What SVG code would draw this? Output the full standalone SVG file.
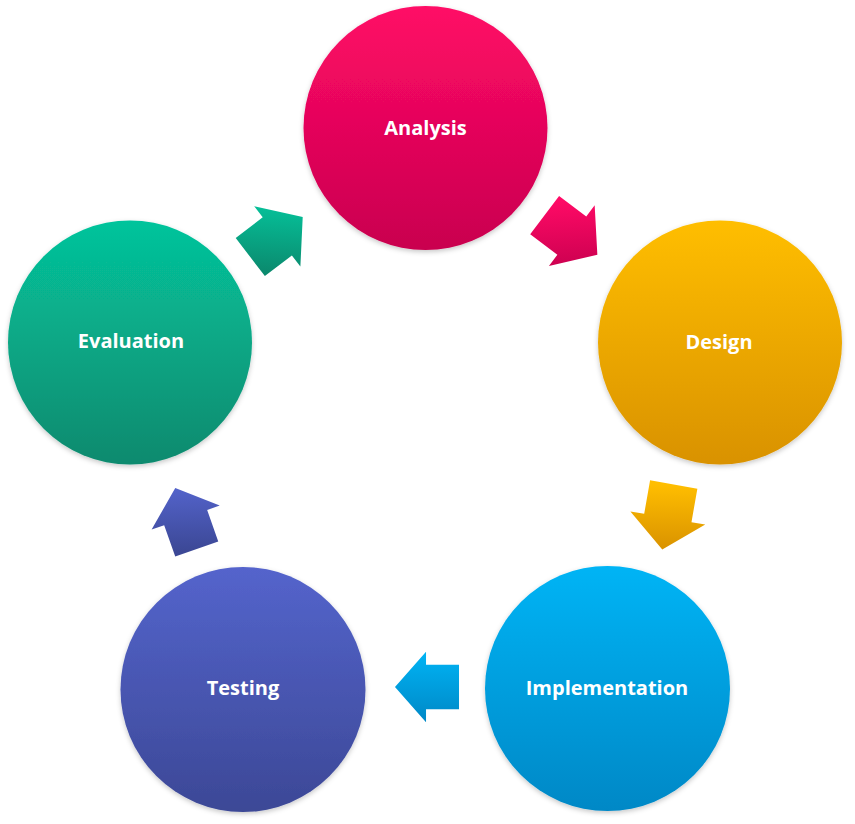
<svg xmlns="http://www.w3.org/2000/svg" xmlns:xlink="http://www.w3.org/1999/xlink" width="855" height="824" viewBox="0 0 855 824">
  <style>
    .label { font-family: "Open Sans", "Liberation Sans", sans-serif; font-weight: 700; font-size: 20px; fill: #ffffff; text-anchor: middle; }
    .node circle { filter: url(#soft); }
  </style>
  <defs>
    <filter id="soft" x="-20%" y="-20%" width="140%" height="140%">
      <feDropShadow dx="0" dy="2" stdDeviation="2.5" flood-color="#000000" flood-opacity="0.22"/>
    </filter>
    <!-- circle fills: lighter at the top, darker at the bottom -->
    <linearGradient id="gAnalysis" x1="0" y1="0" x2="0" y2="1">
      <stop offset="0" stop-color="#ff0a66"/>
      <stop offset="1" stop-color="#c9004f"/>
    </linearGradient>
    <linearGradient id="gDesign" x1="0" y1="0" x2="0" y2="1">
      <stop offset="0" stop-color="#ffbe00"/>
      <stop offset="1" stop-color="#d99200"/>
    </linearGradient>
    <linearGradient id="gImpl" x1="0" y1="0" x2="0" y2="1">
      <stop offset="0" stop-color="#00b4f5"/>
      <stop offset="1" stop-color="#0088c6"/>
    </linearGradient>
    <linearGradient id="gTest" x1="0" y1="0" x2="0" y2="1">
      <stop offset="0" stop-color="#5464cc"/>
      <stop offset="1" stop-color="#3c4896"/>
    </linearGradient>
    <linearGradient id="gEval" x1="0" y1="0" x2="0" y2="1">
      <stop offset="0" stop-color="#05c49c"/>
      <stop offset="1" stop-color="#0b8a6e"/>
    </linearGradient>
    <!-- arrow fills: vectors counter-rotated so the shading stays vertical on screen -->
    <linearGradient id="aEval" href="#gEval" xlink:href="#gEval" x1="0.80" y1="0.10" x2="0.20" y2="0.90"/>
    <linearGradient id="aAnalysis" href="#gAnalysis" xlink:href="#gAnalysis" x1="0.20" y1="0.10" x2="0.80" y2="0.90"/>
    <linearGradient id="aDesign" href="#gDesign" xlink:href="#gDesign" x1="0.01" y1="0.59" x2="0.99" y2="0.41"/>
    <linearGradient id="aImpl" href="#gImpl" xlink:href="#gImpl" x1="0.5" y1="1" x2="0.5" y2="0"/>
    <linearGradient id="aTest" href="#gTest" xlink:href="#gTest" x1="0.97" y1="0.67" x2="0.03" y2="0.33"/>
    <!-- block arrow pointing along +x, centred on the origin -->
    <path id="arrow" d="M-33,-24 L1,-24 L1,-38 L33,0 L1,38 L1,24 L-33,24 Z"/>
  </defs>

  <g id="connectors">
    <use xlink:href="#arrow" href="#arrow" fill="url(#aEval)" transform="translate(276.5,237) rotate(-37.4)"/>
    <use xlink:href="#arrow" href="#arrow" fill="url(#aAnalysis)" transform="translate(571,235) rotate(37)"/>
    <use xlink:href="#arrow" href="#arrow" fill="url(#aDesign)" transform="translate(668,517) rotate(100)"/>
    <use xlink:href="#arrow" href="#arrow" fill="url(#aImpl)" transform="translate(427,687) rotate(180) scale(0.97,0.93)"/>
    <use xlink:href="#arrow" href="#arrow" fill="url(#aTest)" transform="translate(186,518.5) rotate(-109.4) scale(0.98,0.95)"/>
  </g>

  <g id="analysis" class="node">
    <circle cx="425.5" cy="128" r="122" fill="url(#gAnalysis)"/>
    <text class="label" x="425.5" y="135">Analysis</text>
  </g>
  <g id="design" class="node">
    <circle cx="720" cy="342.5" r="122" fill="url(#gDesign)"/>
    <text class="label" x="719" y="349">Design</text>
  </g>
  <g id="implementation" class="node">
    <circle cx="607.5" cy="688.5" r="122.5" fill="url(#gImpl)"/>
    <text class="label" x="607" y="695">Implementation</text>
  </g>
  <g id="testing" class="node">
    <circle cx="243" cy="689.5" r="122.5" fill="url(#gTest)"/>
    <text class="label" x="243" y="695">Testing</text>
  </g>
  <g id="evaluation" class="node">
    <circle cx="130" cy="342.5" r="122" fill="url(#gEval)"/>
    <text class="label" x="131" y="348">Evaluation</text>
  </g>
</svg>
